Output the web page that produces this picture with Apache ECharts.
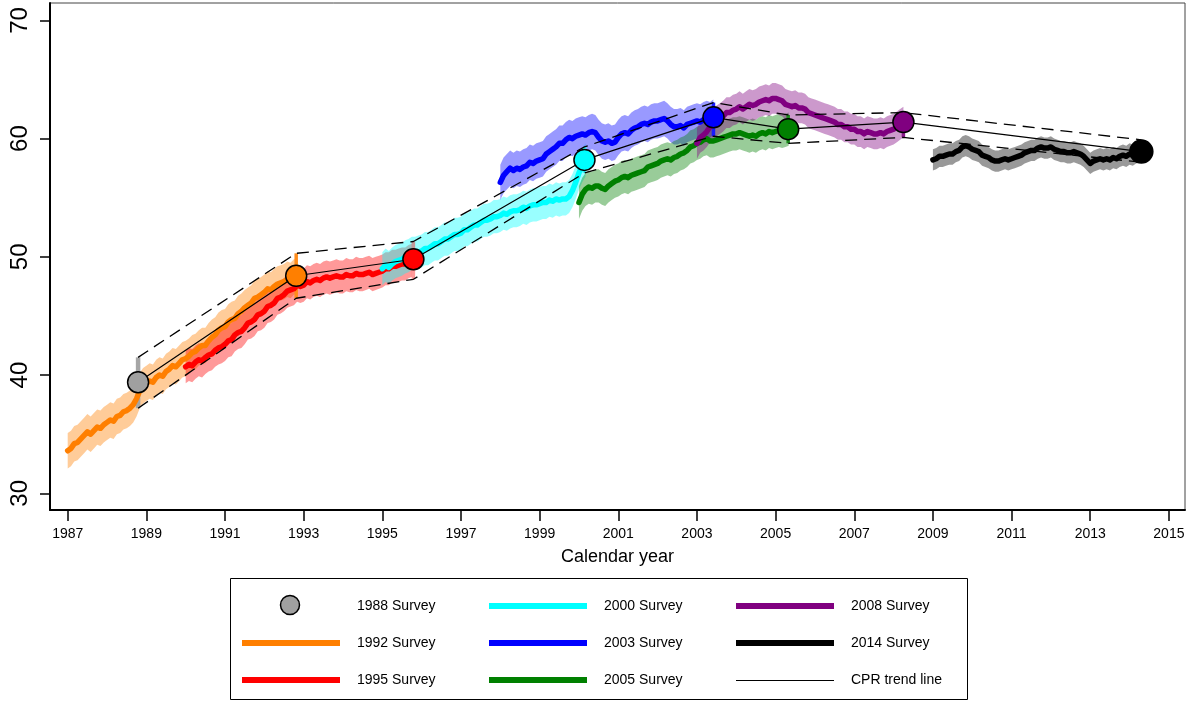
<!DOCTYPE html>
<html>
<head>
<meta charset="utf-8">
<title>CPR trend by survey</title>
<script src="https://cdn.jsdelivr.net/npm/echarts@6/dist/echarts.min.js"></script>
<style>
  html, body { margin: 0; padding: 0; background: #fff; }
  #chart { width: 1188px; height: 704px; }
</style>
</head>
<body>
<div id="chart"></div>
<script>
// ---- Survey point estimates (CPR, %) and their confidence limits ----
const surveyNames = ['1988 Survey', '1992 Survey', '1995 Survey', '2000 Survey',
                     '2003 Survey', '2005 Survey', '2008 Survey', '2014 Survey'];
const surveyDates = [1988.79, 1992.81, 1995.79, 2000.14, 2003.42, 2005.32, 2008.25, 2014.30];
const surveyCPR   = [39.4, 48.4, 49.8, 58.2, 61.8, 60.8, 61.4, 58.9];
const surveyLower = [37.2, 46.5, 48.1, 57.1, 60.2, 59.6, 60.1, 58.0];
const surveyUpper = [41.5, 50.3, 51.3, 59.3, 63.05, 62.0, 62.2, 59.9];

// ---- Monthly retrospective estimates; each list starts at its start year ----
const start1992 = 1987.0;
const cpr1992 = [
  33.6, 33.8, 34.2, 34.3, 34.6, 34.9, 35.2, 35.0, 35.3, 35.6, 35.5, 35.8,
  36.0, 36.2, 36.1, 36.5, 36.6, 36.9, 37.0, 37.2, 37.5, 38.0, 38.7, 39.1,
  39.3, 39.5, 39.4, 39.8, 40.0, 39.9, 40.3, 40.5, 40.8, 40.7, 41.0, 41.3,
  41.4, 41.6, 41.9, 42.0, 42.3, 42.5, 42.5, 42.9, 43.2, 43.4, 43.8, 44.0,
  44.1, 44.5, 44.7, 44.8, 45.2, 45.4, 45.7, 45.9, 46.1, 46.5, 46.6, 46.8,
  47.0, 47.3, 47.2, 47.5, 47.7, 47.8, 47.9, 48.1, 48.0, 48.3, 48.4
];
const start1995 = 1990.0;
const cpr1995 = [
  40.7, 40.9, 40.8, 41.1, 41.3, 41.2, 41.5, 41.7, 41.8, 42.1, 42.3, 42.4,
  42.6, 42.9, 43.0, 43.4, 43.6, 43.7, 44.0, 44.4, 44.5, 44.7, 45.1, 45.2,
  45.4, 45.8, 45.9, 46.1, 46.5, 46.6, 46.8, 47.1, 47.2, 47.3, 47.6, 47.5,
  47.6, 47.9, 47.8, 48.0, 48.1, 48.0, 48.2, 48.3, 48.2, 48.3, 48.4, 48.3,
  48.3, 48.5, 48.4, 48.4, 48.6, 48.5, 48.5, 48.6, 48.7, 48.5, 48.6, 48.7,
  48.8, 49.0, 49.0, 49.2, 49.2, 49.3, 49.4, 49.4, 49.6, 49.7
];
const start2000 = 1995.0;
const cpr2000 = [
  49.0, 49.3, 49.1, 49.4, 49.6, 49.7, 49.8, 50.0, 50.1, 50.3, 50.3, 50.4,
  50.5, 50.7, 50.7, 50.9, 51.1, 51.1, 51.3, 51.5, 51.5, 51.7, 51.9, 51.9,
  52.0, 52.3, 52.3, 52.5, 52.7, 52.7, 52.9, 53.1, 53.1, 53.2, 53.4, 53.4,
  53.5, 53.7, 53.6, 53.8, 53.9, 53.9, 54.0, 54.2, 54.1, 54.3, 54.4, 54.4,
  54.5, 54.6, 54.6, 54.8, 54.7, 54.9, 54.8, 54.9, 54.9, 55.1, 55.6, 56.3,
  57.1, 57.7, 58.2
];
const start2003 = 1998.0;
const cpr2003 = [
  56.3, 56.9, 57.2, 57.5, 57.3, 57.5, 57.4, 57.6, 57.7, 58.0, 57.9, 58.1,
  58.2, 58.3, 58.7, 58.9, 59.1, 59.3, 59.6, 59.6, 59.9, 60.1, 60.0, 60.2,
  60.3, 60.4, 60.3, 60.5, 60.6, 60.5, 60.1, 59.8, 59.7, 59.8, 59.6, 59.7,
  60.1, 60.4, 60.5, 60.4, 60.7, 60.9, 61.0, 61.2, 61.3, 61.2, 61.4, 61.5,
  61.5, 61.6, 61.7, 61.5, 61.2, 61.0, 61.0, 61.1, 60.9, 61.2, 61.3, 61.4,
  61.5, 61.4, 61.6, 61.7, 61.6, 61.8
];
const start2005 = 2000.0;
const cpr2005 = [
  54.6, 55.3, 55.7, 55.9, 55.8, 56.0, 56.0, 55.8, 55.7, 56.0, 56.2, 56.4,
  56.5, 56.7, 56.8, 56.7, 56.9, 57.0, 57.1, 57.2, 57.3, 57.6, 57.7, 57.8,
  57.9, 58.1, 58.2, 58.3, 58.2, 58.4, 58.5, 58.7, 58.8, 59.0, 59.3, 59.4,
  59.6, 59.7, 59.9, 60.0, 59.8, 59.8, 59.9, 60.0, 60.1, 60.2, 60.3, 60.4,
  60.4, 60.5, 60.4, 60.3, 60.2, 60.3, 60.2, 60.4, 60.5, 60.4, 60.6, 60.5,
  60.6, 60.7, 60.6, 60.7, 60.8
];
const start2008 = 2003.0;
const cpr2008 = [
  59.6, 60.1, 60.3, 60.6, 61.0, 61.2, 61.5, 61.7, 61.9, 62.2, 62.2, 62.4,
  62.5, 62.7, 62.5, 62.7, 62.9, 62.8, 62.9, 63.1, 63.2, 63.3, 63.2, 63.4,
  63.4, 63.3, 63.2, 62.9, 62.8, 62.7, 62.8, 62.6, 62.6, 62.5, 62.2, 62.1,
  62.0, 61.9, 61.8, 61.7, 61.6, 61.5, 61.4, 61.2, 61.2, 61.0, 61.0, 60.8,
  60.8, 60.6, 60.6, 60.4, 60.6, 60.5, 60.4, 60.4, 60.5, 60.4, 60.6, 60.7,
  60.8, 61.0, 61.2, 61.4
];
const start2014 = 2009.0;
const cpr2014 = [
  58.2, 58.3, 58.5, 58.5, 58.6, 58.7, 58.7, 58.9, 59.0, 59.3, 59.4, 59.3,
  59.1, 59.0, 58.9, 58.6, 58.5, 58.4, 58.2, 58.1, 58.1, 58.2, 58.3, 58.2,
  58.3, 58.4, 58.5, 58.6, 58.8, 58.9, 59.0, 59.0, 59.2, 59.3, 59.2, 59.2,
  59.3, 59.1, 59.0, 58.9, 58.9, 58.8, 58.8, 58.9, 58.8, 58.7, 58.5, 58.2,
  57.9, 58.1, 58.2, 58.3, 58.2, 58.3, 58.2, 58.4, 58.3, 58.5, 58.6, 58.5,
  58.7, 58.6, 58.8, 58.9
];
// Half-width of the 95% band around each monthly series
const bandHalfWidth = [1.5, 1.4, 1.4, 1.5, 1.4, 1.3, 0.9];

// Axis ticks
const xTicks = [1987, 1989, 1991, 1993, 1995, 1997, 1999, 2001, 2003, 2005, 2007, 2009, 2011, 2013, 2015];
const yTicks = [30, 40, 50, 60, 70];

// ---- Styling ----
const FONT = '"Liberation Sans", Arial, Helvetica, sans-serif';
const surveyColors = ['#a0a0a0', '#ff7f00', '#ff0000', '#00ffff', '#0000ff', '#008000', '#800080', '#000000'];
const bandColors = ['rgba(255,127,0,0.4)', 'rgba(255,0,0,0.4)', 'rgba(0,255,255,0.4)',
                    'rgba(0,0,255,0.4)', 'rgba(0,128,0,0.4)', 'rgba(128,0,128,0.4)', 'rgba(0,0,0,0.4)'];
const ciBarColors = ['#a6a6a6', '#ff8c1a', 'rgba(255,0,0,0.4)', '#33ffff',
                     '#1a1aff', '#1a8c1a', '#8c1a8c', '#222222'];

const monthlySets = [
  { start: start1992, values: cpr1992 },
  { start: start1995, values: cpr1995 },
  { start: start2000, values: cpr2000 },
  { start: start2003, values: cpr2003 },
  { start: start2005, values: cpr2005 },
  { start: start2008, values: cpr2008 },
  { start: start2014, values: cpr2014 }
];

const series = [];

// Confidence bands: one filled polygon per survey
monthlySets.forEach((set, k) => {
  const rows = set.values.map((v, i) => [set.start + i / 12, v - bandHalfWidth[k], v + bandHalfWidth[k]]);
  series.push({
    type: 'custom',
    name: surveyNames[k + 1] + ' band',
    silent: true,
    z: 1,
    data: rows,
    encode: { x: 0, y: [1, 2] },
    renderItem: (params, api) => {
      if (params.dataIndex !== 0) return null;
      const upper = [], lower = [];
      for (let i = 0; i < rows.length; i++) {
        upper.push(api.coord([api.value(0, i), api.value(2, i)]));
        lower.push(api.coord([api.value(0, i), api.value(1, i)]));
      }
      return {
        type: 'polygon',
        shape: { points: upper.concat(lower.reverse()) },
        style: { fill: bandColors[k] }
      };
    }
  });
});

// Vertical confidence bars at each survey date
series.push({
  type: 'custom',
  name: 'survey CI',
  silent: true,
  z: 2,
  data: surveyDates.map((d, i) => [d, surveyLower[i], surveyUpper[i]]),
  encode: { x: 0, y: [1, 2] },
  renderItem: (params, api) => {
    const a = api.coord([api.value(0), api.value(1)]);
    const b = api.coord([api.value(0), api.value(2)]);
    return {
      type: 'line',
      shape: { x1: a[0], y1: a[1], x2: b[0], y2: b[1] },
      style: { stroke: ciBarColors[params.dataIndex], lineWidth: params.dataIndex === 0 ? 4.5 : 3.5 }
    };
  }
});

// Monthly survey lines
monthlySets.forEach((set, k) => {
  series.push({
    type: 'line',
    name: surveyNames[k + 1],
    data: set.values.map((v, i) => [set.start + i / 12, v]),
    showSymbol: false,
    symbol: 'none',
    silent: true,
    z: 3,
    lineStyle: { color: surveyColors[k + 1], width: 5.5, join: 'round', cap: 'round' }
  });
});

// Trend line with its dashed confidence limits
[surveyUpper, surveyLower].forEach((lim, j) => {
  series.push({
    type: 'line',
    name: j === 0 ? 'upper limit' : 'lower limit',
    data: surveyDates.map((d, i) => [d, lim[i]]),
    showSymbol: false,
    symbol: 'none',
    silent: true,
    z: 4,
    lineStyle: { color: '#000', width: 1.3, type: [12, 7] }
  });
});
series.push({
  type: 'line',
  name: 'CPR trend line',
  data: surveyDates.map((d, i) => [d, surveyCPR[i]]),
  showSymbol: false,
  symbol: 'none',
  silent: true,
  z: 5,
  lineStyle: { color: '#000', width: 1.2 }
});

// Survey point estimates
series.push({
  type: 'scatter',
  name: 'survey points',
  z: 6,
  silent: true,
  data: surveyDates.map((d, i) => ({
    value: [d, surveyCPR[i]],
    symbolSize: i === 7 ? 23 : 21,
    itemStyle: { color: surveyColors[i], borderColor: '#000', borderWidth: 1.5, opacity: 1 }
  }))
});

// ---- Legend box (3 columns x 3 rows) ----
const legendEntries = [
  { col: 0, row: 0, kind: 'circle', color: surveyColors[0], text: surveyNames[0] },
  { col: 0, row: 1, kind: 'bar', color: surveyColors[1], text: surveyNames[1] },
  { col: 0, row: 2, kind: 'bar', color: surveyColors[2], text: surveyNames[2] },
  { col: 1, row: 0, kind: 'bar', color: surveyColors[3], text: surveyNames[3] },
  { col: 1, row: 1, kind: 'bar', color: surveyColors[4], text: surveyNames[4] },
  { col: 1, row: 2, kind: 'bar', color: surveyColors[5], text: surveyNames[5] },
  { col: 2, row: 0, kind: 'bar', color: surveyColors[6], text: surveyNames[6] },
  { col: 2, row: 1, kind: 'bar', color: surveyColors[7], text: surveyNames[7] },
  { col: 2, row: 2, kind: 'thin', color: '#000', text: 'CPR trend line' }
];
const colX = [242, 489, 736];
const rowY = [606, 643, 680];
const graphics = [{
  type: 'rect',
  shape: { x: 230.5, y: 578.5, width: 737, height: 121 },
  style: { fill: '#fff', stroke: '#000', lineWidth: 1 },
  z: 0
}];
legendEntries.forEach(e => {
  const x0 = colX[e.col], y0 = rowY[e.row];
  if (e.kind === 'circle') {
    graphics.push({ type: 'circle', shape: { cx: x0 + 48, cy: y0 - 1, r: 9.5 },
      style: { fill: e.color, stroke: '#000', lineWidth: 1.5 }, z: 2 });
  } else if (e.kind === 'thin') {
    graphics.push({ type: 'line', shape: { x1: x0, y1: y0 + 0.5, x2: x0 + 98, y2: y0 + 0.5 },
      style: { stroke: e.color, lineWidth: 1 }, z: 2 });
  } else {
    graphics.push({ type: 'line', shape: { x1: x0, y1: y0, x2: x0 + 98, y2: y0 },
      style: { stroke: e.color, lineWidth: 6 }, z: 2 });
  }
  graphics.push({ type: 'text', x: x0 + 115, y: y0,
    style: { text: e.text, fill: '#000', font: '14px ' + FONT, verticalAlign: 'middle', align: 'left' }, z: 2 });
});

const option = {
  animation: false,
  backgroundColor: '#fff',
  grid: {
    left: 50, right: 3, top: 3, bottom: 194,
    show: true, borderColor: '#444', borderWidth: 1,
    containLabel: false, outerBoundsMode: 'none'
  },
  xAxis: {
    type: 'value',
    min: 1986.55, max: 2015.41,
    name: 'Calendar year',
    nameLocation: 'middle',
    nameGap: 38,
    nameTextStyle: { fontFamily: FONT, fontSize: 18, color: '#000' },
    axisLine: { show: true, onZero: false, lineStyle: { color: '#000', width: 2 } },
    axisTick: { show: true, length: 11, lineStyle: { color: '#000', width: 1.5 }, customValues: xTicks },
    axisLabel: { customValues: xTicks, fontFamily: FONT, fontSize: 14, color: '#000', margin: 17,
                 formatter: v => String(v) },
    splitLine: { show: false }
  },
  yAxis: {
    type: 'value',
    min: 28.59, max: 71.47,
    axisLine: { show: true, onZero: false, lineStyle: { color: '#000', width: 2 } },
    axisTick: { show: true, length: 10, lineStyle: { color: '#000', width: 1.5 }, customValues: yTicks },
    axisLabel: { customValues: yTicks, rotate: 90, fontFamily: FONT, fontSize: 24, color: '#000', margin: 18,
                 formatter: v => String(v) },
    splitLine: { show: false }
  },
  series: series,
  graphic: graphics
};

const chart = echarts.init(document.getElementById('chart'), null, { renderer: 'canvas' });
chart.setOption(option);
</script>
</body>
</html>
